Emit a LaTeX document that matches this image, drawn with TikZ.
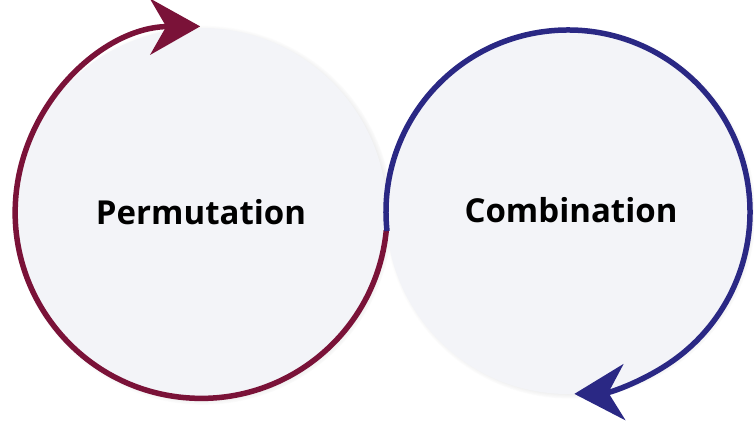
\documentclass[tikz,border=0pt]{standalone}
\usepackage{fontspec}
\setmainfont{Open Sans}
\usetikzlibrary{arrows.meta,shadows}
\definecolor{permred}{RGB}{122,18,56}
\definecolor{combblue}{RGB}{42,40,132}
\definecolor{bubblefill}{RGB}{243,244,248}
\tikzset{
  bubble/.style={circle,fill=bubblefill,outer sep=0pt,inner sep=0pt,
    font=\bfseries\fontsize{33}{40}\selectfont,
    circular drop shadow={shadow xshift=2pt,shadow yshift=-1pt,shadow scale=1.02,opacity=.6}},
  loop/.style={line width=5.5pt,-{Stealth[length=50pt,width=56pt,inset=16pt]}}
}

\begin{document}
\begin{tikzpicture}[x=1pt,y=1pt]
  \useasboundingbox (0,0) rectangle (754,424);
  \node[bubble,minimum size=372pt] (perm) at (201,210) {\raisebox{5pt}{Permutation}};
  \node[bubble,minimum size=364pt] (comb) at (568,212) {\raisebox{4pt}{\hspace{6pt}Combination}};
  % arrows running round each circle
  \draw[loop,permred] (perm.-5.5) arc[start angle=-5.5,end angle=-269.7,radius=186];
  \draw[loop,combblue] (comb.186) arc[start angle=186,end angle=-88,radius=182];
\end{tikzpicture}
\end{document}
